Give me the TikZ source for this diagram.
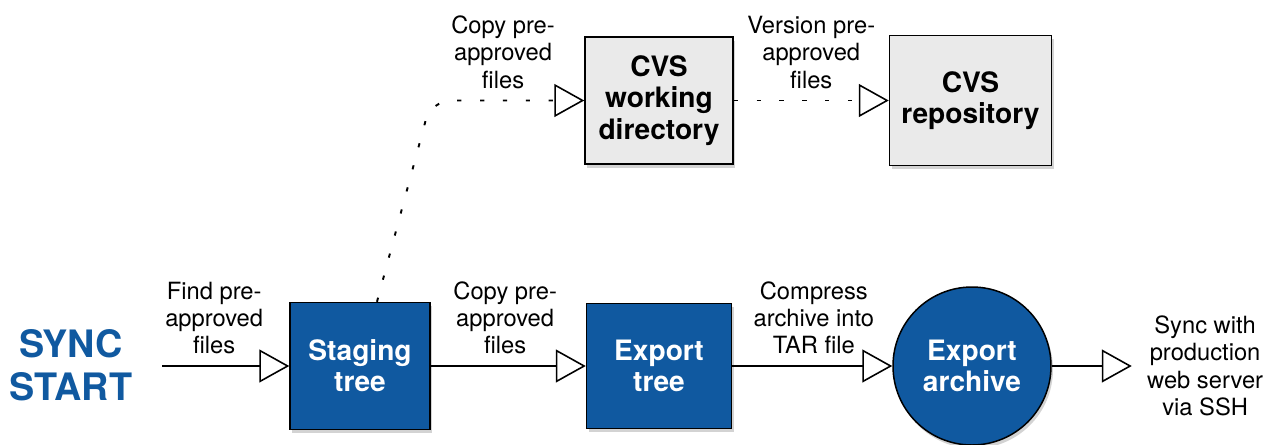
\documentclass[tikz,border=0pt]{standalone}
\usepackage{fontspec}
\setmainfont{TeX Gyre Heros}
\usepackage{xcolor}
\usepackage{tikz}
\usetikzlibrary{calc}
\usetikzlibrary{positioning}
\usetikzlibrary{arrows.meta}
\usetikzlibrary{shadows}
\definecolor{syncblue}{RGB}{16,89,160}
\definecolor{cvsgrey}{RGB}{234,234,234}

\begin{document}
\begin{tikzpicture}[scale=1]
  \tikzset{every node/.style={font=\fontsize{13.5}{15.6}\selectfont,align=center,inner sep=0pt}};
  \tikzset{box/.style={rectangle,draw,line width=0.85pt,font=\fontsize{16}{17.8}\selectfont\bfseries,drop shadow={shadow xshift=0.04cm,shadow yshift=-0.07cm,opacity=0.35}}};
  \tikzset{bluebox/.style={box,fill=syncblue,text=white}};
  \tikzset{greybox/.style={box,fill=cvsgrey}};
  \tikzset{flow/.style={line width=0.9pt,-{Triangle[open,length=0.6cm,width=0.66cm,line width=0.9pt]}}};
  \tikzset{dotflow/.style={flow,line width=1.1pt,dash pattern=on 2.4pt off 10.6pt}};
  \useasboundingbox (0,0) rectangle (25.38,8.88);
  \node [text=syncblue, font=\fontsize{21.5}{24.5}\selectfont\bfseries] (start) at (1.42,1.58) {SYNC\\START};
  \node [bluebox, minimum width=2.8cm, minimum height=2.54cm] (stage) at (7.2,1.56) {Staging\\tree};
  \node [bluebox, minimum width=2.9cm, minimum height=2.5cm, right=3.1cm of stage] (export) {Export\\tree};
  \node [bluebox, circle, minimum size=3.16cm, right=3.2cm of export] (archive) {Export\\archive};
  \node [greybox, minimum width=2.96cm, minimum height=2.54cm, above=2.76cm of export] (cvswd) {CVS\\working\\directory};
  \node [greybox, minimum width=3.24cm, minimum height=2.6cm, right=3.1cm of cvswd] (cvsrepo) {CVS\\repository};
  \coordinate (in) at (3.24,1.56);
  \coordinate [right=1.6cm of archive] (out);
  \coordinate (dbend) at (8.62,0 |- cvswd.west);
  \node [right=0.3cm of out] (sync) {Sync with\\production\\web server\\via SSH};
  \draw[flow] (in) -- node[above=0.22cm, pos=0.41] {Find pre-\\approved\\files} (stage);
  \draw[flow] (stage) -- node[above=0.22cm, pos=0.48] {Copy pre-\\approved\\files} (export);
  \draw[flow] (export) -- node[above=0.22cm, pos=0.51] {Compress\\archive into\\TAR file} (archive);
  \draw[flow] (archive) -- (out);
  \draw[dotflow, rounded corners=0.4cm] ($(stage.north)+(0.34,0)$) -- (dbend) -- node[above=0.22cm, pos=0.47] {Copy pre-\\approved\\files} (cvswd.west);
  \draw[dotflow] (cvswd) -- node[above=0.22cm] {Version pre-\\approved\\files} (cvsrepo);
\end{tikzpicture}
\end{document}
